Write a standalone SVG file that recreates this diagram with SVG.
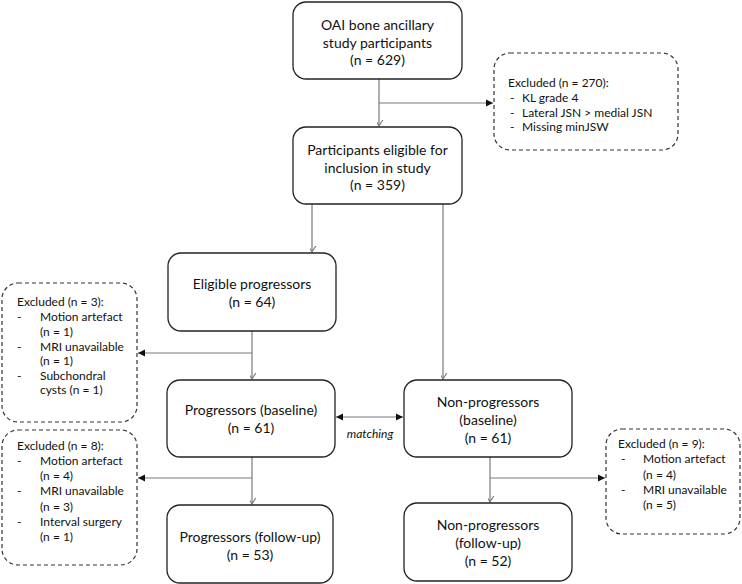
<svg xmlns="http://www.w3.org/2000/svg" width="742" height="584" viewBox="0 0 742 584">
<defs>
<style>
.box{fill:#fff;stroke:#222;stroke-width:1.3}
.dbox{fill:#fff;stroke:#333;stroke-width:1.2;stroke-dasharray:4 3}
.ln{fill:none;stroke:#7a7a7a;stroke-width:1.2}
.t{font-family:Lato,"Liberation Sans",sans-serif;font-size:14px;fill:#111;text-anchor:middle}
.s{font-family:Lato,"Liberation Sans",sans-serif;font-size:12px;fill:#111}
.m{font-family:Lato,"Liberation Sans",sans-serif;font-size:12px;font-style:italic;fill:#111;text-anchor:middle}
</style>
<marker id="open" markerUnits="userSpaceOnUse" markerWidth="12" markerHeight="12" viewBox="-6 -10 12 12" refX="0" refY="0" orient="auto-start-reverse">
<path d="M-5,-8 L0,0 L5,-8" fill="none" stroke="#7a7a7a" stroke-width="1.1" transform="rotate(-90)"/>
</marker>
<marker id="fill" markerUnits="userSpaceOnUse" markerWidth="10" markerHeight="10" viewBox="-8 -5 10 10" refX="0" refY="0" orient="auto-start-reverse">
<path d="M-7,-3.5 L0,0 L-7,3.5 Z" fill="#111"/>
</marker>
</defs>
<g id="connectors">
<path class="ln" d="M379,79 V126" marker-end="url(#open)"/>
<path class="ln" d="M379,103 H493" marker-end="url(#fill)"/>
<path class="ln" d="M312,204 V252" marker-end="url(#open)"/>
<path class="ln" d="M443,204 V379" marker-end="url(#open)"/>
<path class="ln" d="M252,331 V379" marker-end="url(#open)"/>
<path class="ln" d="M252,353 H138" marker-end="url(#fill)"/>
<path class="ln" d="M252,457 V504" marker-end="url(#open)"/>
<path class="ln" d="M252,478 H138" marker-end="url(#fill)"/>
<path class="ln" d="M336,417 H403" marker-start="url(#fill)" marker-end="url(#fill)"/>
<path class="ln" d="M490,457 V502" marker-end="url(#open)"/>
<path class="ln" d="M490,478 H605" marker-end="url(#fill)"/>
<text class="m" x="370" y="438">matching</text>
</g>
<g id="oai">
<rect class="box" x="293" y="2" width="169" height="77" rx="13"/>
<text class="t" x="377.5" y="30">OAI bone ancillary</text>
<text class="t" x="377.5" y="47.5">study participants</text>
<text class="t" x="377.5" y="65">(n = 629)</text>
</g>
<g id="excl270">
<rect class="dbox" x="494" y="53" width="184" height="97" rx="16"/>
<text class="s" x="508" y="87">Excluded (n = 270):</text>
<text class="s" x="510" y="102">-</text><text class="s" x="522" y="102">KL grade 4</text>
<text class="s" x="510" y="116.5">-</text><text class="s" x="522" y="116.5">Lateral JSN &gt; medial JSN</text>
<text class="s" x="510" y="131">-</text><text class="s" x="522" y="131">Missing minJSW</text>
</g>
<g id="eligible">
<rect class="box" x="293" y="127" width="169" height="77" rx="13"/>
<text class="t" x="377.5" y="155">Participants eligible for</text>
<text class="t" x="377.5" y="172.5">inclusion in study</text>
<text class="t" x="377.5" y="190">(n = 359)</text>
</g>
<g id="eligprog">
<rect class="box" x="168" y="253" width="168" height="78" rx="13"/>
<text class="t" x="252" y="289">Eligible progressors</text>
<text class="t" x="252" y="307">(n = 64)</text>
</g>
<g id="excl3">
<rect class="dbox" x="2" y="283" width="135" height="139" rx="16"/>
<text class="s" x="17" y="306">Excluded (n = 3):</text>
<text class="s" x="17" y="321">-</text><text class="s" x="40" y="321">Motion artefact</text>
<text class="s" x="40" y="336">(n = 1)</text>
<text class="s" x="17" y="350.5">-</text><text class="s" x="40" y="350.5">MRI unavailable</text>
<text class="s" x="40" y="365">(n = 1)</text>
<text class="s" x="17" y="379.5">-</text><text class="s" x="40" y="379.5">Subchondral</text>
<text class="s" x="40" y="394">cysts (n = 1)</text>
</g>
<g id="progbase">
<rect class="box" x="167" y="380" width="168" height="77" rx="13"/>
<text class="t" x="251" y="415">Progressors (baseline)</text>
<text class="t" x="251" y="433">(n = 61)</text>
</g>
<g id="nonprogbase">
<rect class="box" x="404" y="380" width="168" height="77" rx="13"/>
<text class="t" x="488" y="407">Non-progressors</text>
<text class="t" x="488" y="425">(baseline)</text>
<text class="t" x="488" y="443">(n = 61)</text>
</g>
<g id="excl8">
<rect class="dbox" x="2" y="430" width="135" height="135" rx="16"/>
<text class="s" x="17" y="449.5">Excluded (n = 8):</text>
<text class="s" x="17" y="465">-</text><text class="s" x="40" y="465">Motion artefact</text>
<text class="s" x="40" y="480">(n = 4)</text>
<text class="s" x="17" y="495">-</text><text class="s" x="40" y="495">MRI unavailable</text>
<text class="s" x="40" y="510.5">(n = 3)</text>
<text class="s" x="17" y="526">-</text><text class="s" x="40" y="526">Interval surgery</text>
<text class="s" x="40" y="541">(n = 1)</text>
</g>
<g id="excl9">
<rect class="dbox" x="606" y="429" width="134" height="105" rx="16"/>
<text class="s" x="618" y="448">Excluded (n = 9):</text>
<text class="s" x="621" y="463">-</text><text class="s" x="643" y="463">Motion artefact</text>
<text class="s" x="643" y="479">(n = 4)</text>
<text class="s" x="621" y="494">-</text><text class="s" x="643" y="494">MRI unavailable</text>
<text class="s" x="643" y="509">(n = 5)</text>
</g>
<g id="progfu">
<rect class="box" x="167" y="505" width="166" height="78" rx="13"/>
<text class="t" x="250" y="542">Progressors (follow-up)</text>
<text class="t" x="250" y="560">(n = 53)</text>
</g>
<g id="nonprogfu">
<rect class="box" x="404" y="503" width="168" height="78" rx="13"/>
<text class="t" x="488" y="530">Non-progressors</text>
<text class="t" x="488" y="548">(follow-up)</text>
<text class="t" x="488" y="566">(n = 52)</text>
</g>
</svg>
